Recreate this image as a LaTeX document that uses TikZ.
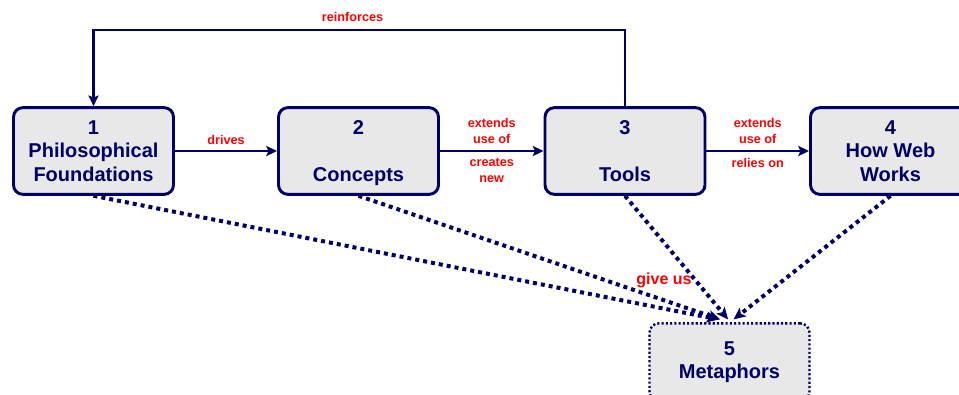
\documentclass[tikz,border=0pt]{standalone}
\usepackage{fontspec}
\setmainfont{Liberation Sans}
\usepackage{xcolor}
\usetikzlibrary{positioning, arrows.meta}
\definecolor{mapnavy}{HTML}{000066}
\definecolor{mapgray}{HTML}{E8E8E8}
\definecolor{mapred}{HTML}{FF0000}

\begin{document}
\begin{tikzpicture}[
  x=0.75pt, y=-0.75pt,
  stage/.style={
    draw=mapnavy, fill=mapgray, line width=2.2pt,
    minimum width=120pt, minimum height=65pt,
    align=center, text=mapnavy, rounded corners=7pt,
    font=\fontsize{15}{17.6}\selectfont\bfseries
  },
  result/.style={
    stage, line width=1.8pt, dash pattern=on 1.6pt off 1.6pt,
    minimum height=58pt
  },
  arrow/.style={-{Stealth[length=8pt, width=7.5pt, inset=1.5pt]}, line width=2.2pt, mapnavy},
  dotarrow/.style={-{Stealth[length=9pt, width=8pt, inset=2pt]}, line width=3pt,
    dash pattern=on 3pt off 3pt, mapnavy},
  linklabel/.style={font=\fontsize{9.5}{12}\selectfont\bfseries, text=mapred,
    align=center, inner sep=2pt}
]
\path[use as bounding box, clip] (0,0) rectangle (959,394);

% ---- Stages ----
\node[stage] (found) at (93.5, 151) {1\\Philosophical\\Foundations};
\node[stage] (concepts) at (358.5, 151) {2\\~\\\smash{Concepts}};
\node[stage] (tools) at (625, 151) {3\\~\\Tools};
\node[stage] (web) at (890.5, 151) {4\\How Web\\Works};

% ---- Metaphors ----
\node[result] (meta) at (729.5, 362) {5\\Metaphors};

% Flèches entre les étapes
\draw[arrow] (found.east) -- (concepts.west)
  node[midway, above=1.5pt, linklabel]{drives};

\draw[arrow] (concepts.east) -- (tools.west)
  node[midway, above=2.5pt, linklabel]{extends\\use of}
  node[midway, below=2.5pt, linklabel]{creates\\new};

\draw[arrow] (tools.east) -- (web.west)
  node[midway, above=2.5pt, linklabel]{extends\\use of}
  node[midway, below=2.5pt, linklabel]{relies on};

% Retour par le haut
\coordinate (topright) at (625, 30);
\coordinate (topleft) at (93.5, 30);
\draw[arrow] (tools.north) -- (topright)
  -- node[above=3.5pt, xshift=-5pt, linklabel]{reinforces} (topleft)
  -- (found.north);

% Liens pointillés vers les métaphores
\draw[dotarrow] (found.south) -- ([xshift=-8pt, yshift=2pt]meta.north);
\draw[dotarrow] (concepts.south) -- ([xshift=-7pt, yshift=2pt]meta.north);
\draw[dotarrow] (tools.south) -- ([xshift=-1pt, yshift=2pt]meta.north);
\draw[dotarrow] (web.south) -- ([xshift=3pt, yshift=2pt]meta.north);

\node[linklabel, font=\fontsize{12}{14}\selectfont\bfseries] (giveus) at (664, 280) {give us};

\end{tikzpicture}
\end{document}
